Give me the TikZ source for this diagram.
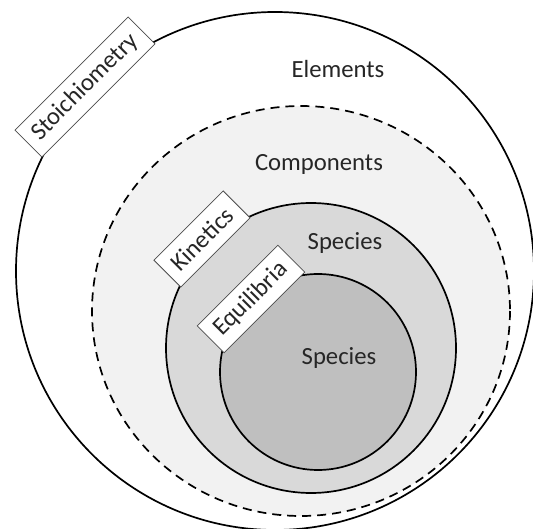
\documentclass[tikz,border=0pt]{standalone}
\usepackage{fontspec}
\setmainfont{Carlito}
\begin{document}
\begin{tikzpicture}[x=1pt,y=-1pt,
  ring/.style={draw=black,line width=1.7pt},
  lbl/.style={font=\fontsize{24.7}{28}\selectfont,text=black!85,anchor=base},
  tag/.style={draw=black!70,line width=0.8pt,fill=white,rotate=45,
    font=\fontsize{24.7}{28}\selectfont,text=black!85,inner sep=0pt,
    minimum height=38pt,align=center}]
\useasboundingbox (0,0) rectangle (533,529);
\fill[white] (0,0) rectangle (533,529);
\draw[ring] (275,271) circle (259);
\draw[ring,fill=black!5,dash pattern=on 9pt off 6pt] (301,311) ellipse [x radius=209,y radius=205];
\draw[ring,fill=black!15] (311,348) circle (145);
\draw[ring,fill=black!25] (318,372) circle (98);
\node[lbl] (el) at (338,78) {Elements};
\node[lbl] (co) at (319,171) {Components};
\node[lbl] (sp1) at (345,250) {Species};
\node[lbl] (sp2) at (339,365) {Species};
\node[tag,minimum width=160pt] (st) at (85,87) {Stoichiometry};
\node[tag,minimum width=98pt] (ki) at (202,239) {Kinetics};
\node[tag,minimum width=114pt] (eq) at (251,299) {Equilibria};
\end{tikzpicture}
\end{document}
